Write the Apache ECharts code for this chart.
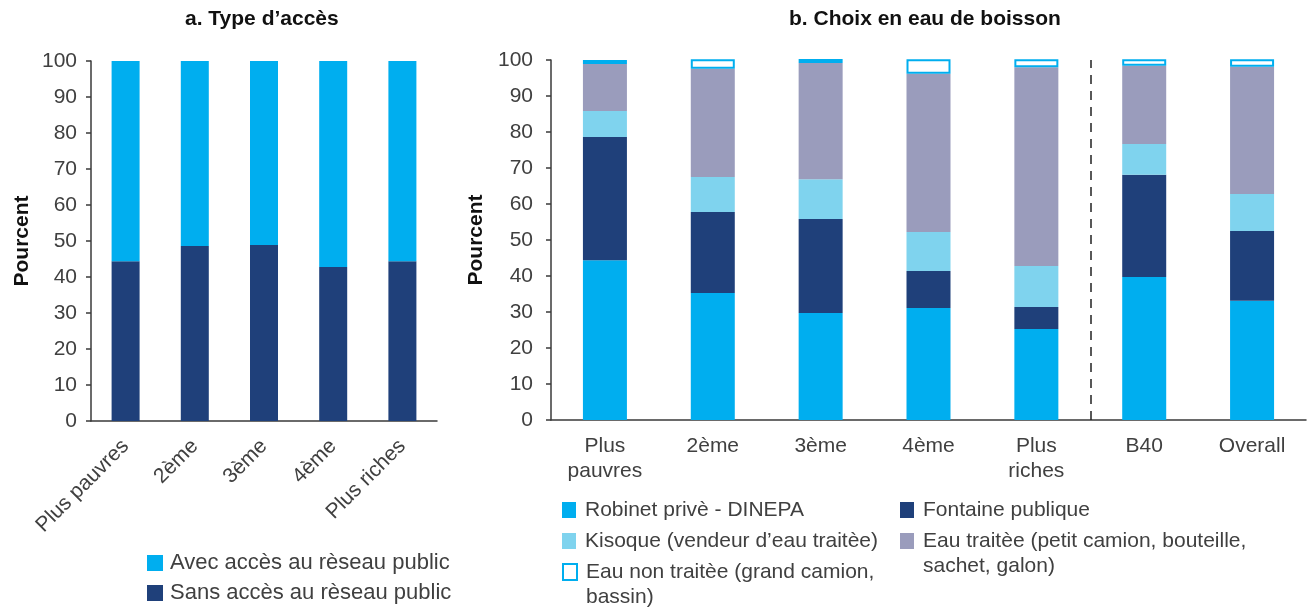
<!DOCTYPE html>
<html>
<head>
<meta charset="utf-8">
<script src="https://cdn.jsdelivr.net/npm/echarts@6/dist/echarts.min.js"></script>
<style>
  html, body { margin: 0; padding: 0; background: #fff; }
  #chart { width: 1309px; height: 607px; }
</style>
</head>
<body>
<div id="chart"></div>
<script>
// a. Type d'accès
const quintiles = ['Plus pauvres', '2ème', '3ème', '4ème', 'Plus riches']
const sansAcces = [44.4, 48.6, 48.9, 42.8, 44.4]
const avecAcces = [55.8, 51.4, 51.1, 57.2, 55.6]

// b. Choix en eau de boisson
const groupes = ['Plus\npauvres', '2ème', '3ème', '4ème', 'Plus\nriches', 'B40', 'Overall']
const robinet = [44.4, 35.3, 29.7, 31.1, 25.3, 39.7, 33.1]
const fontaine = [34.2, 22.5, 26.1, 10.3, 6.1, 28.4, 19.4]
const kiosque = [7.2, 9.7, 11.1, 10.8, 11.4, 8.6, 10.3]
const eauTraitee = [13.1, 30.1, 32.3, 44.0, 55.2, 21.7, 35.3]
const eauNonTraitee = [1.1, 2.6, 1.1, 4.0, 2.2, 1.8, 2.1]

const yTicks = [0, 100, 10]  // min, max, interval

const txt = '#404040'
const axisCol = '#3a3a3a'
const font = 'Liberation Sans'

const names = {
  avec: 'Avec accès au rèseau public',
  sans: 'Sans accès au rèseau public',
  robinet: 'Robinet privè - DINEPA',
  fontaine: 'Fontaine publique',
  kiosque: 'Kisoque (vendeur d\u2019eau traitèe)',
  traitee: 'Eau traitèe (petit camion, bouteille,\nsachet, galon)',
  nonTraitee: 'Eau non traitèe (grand camion,\nbassin)'
}

const yAxisBase = (gridIndex, margin, nameGap) => ({
  type: 'value',
  gridIndex: gridIndex,
  min: yTicks[0],
  max: yTicks[1],
  interval: yTicks[2],
  name: 'Pourcent',
  nameLocation: 'middle',
  nameGap: nameGap,
  nameRotate: 90,
  nameTextStyle: {fontFamily: font, fontSize: 21, fontWeight: 'bold', color: '#111'},
  axisLine: {show: true, lineStyle: {color: axisCol, width: 1.5}},
  axisTick: {show: true, length: 5, lineStyle: {color: axisCol, width: 1.5}},
  axisLabel: {fontFamily: font, fontSize: 21, color: txt, margin: margin},
  splitLine: {show: false}
})

// legend block for the right panel; a leading blank line keeps the icon
// level with the first line of two-line entries
const rightLegend = (left, top, data, twoLines) => ({
  orient: 'vertical',
  left: left, top: top, width: 420, height: 300, padding: 0,
  icon: 'rect',
  itemWidth: 14, itemHeight: 16, itemGap: 6,
  formatter: twoLines ? (n) => '\n' + n : undefined,
  textStyle: {fontFamily: font, fontSize: 21, color: txt, lineHeight: 25, padding: [0, 0, 0, 4]},
  data: data
})

const option = {
  animation: false,
  textStyle: {fontFamily: font},
  title: [
    {
      text: 'a. Type d\u2019accès',
      left: 185, top: 9, padding: 0,
      textStyle: {fontFamily: font, fontSize: 21, fontWeight: 'bold', color: '#111'}
    },
    {
      text: 'b. Choix en eau de boisson',
      left: 789, top: 9, padding: 0,
      textStyle: {fontFamily: font, fontSize: 21, fontWeight: 'bold', color: '#111'}
    }
  ],
  grid: [
    {left: 91, top: 61, width: 346, height: 360},
    {left: 551, top: 60, width: 755, height: 360}
  ],
  legend: [
    {
      orient: 'vertical',
      left: 147, top: 552, width: 400, height: 60, padding: 0,
      icon: 'rect',
      itemWidth: 16, itemHeight: 16, itemGap: 8,
      textStyle: {fontFamily: font, fontSize: 22, color: txt, lineHeight: 22, padding: [0, 0, 0, 2]},
      data: [names.avec, names.sans]
    },
    rightLegend(562, 497.5, [names.robinet, names.kiosque], false),
    rightLegend(562, 534.5, [names.nonTraitee], true),
    rightLegend(900, 497.5, [names.fontaine], false),
    rightLegend(900, 503.5, [names.traitee], true)
  ],
  xAxis: [
    {
      type: 'category',
      gridIndex: 0,
      data: quintiles,
      axisLine: {lineStyle: {color: axisCol, width: 1.5}},
      axisTick: {length: 7, lineStyle: {color: axisCol, width: 1.5}},
      axisLabel: {fontFamily: font, fontSize: 21, color: txt, rotate: 45, interval: 0, margin: 22}
    },
    {
      type: 'category',
      gridIndex: 1,
      data: groupes,
      axisLine: {lineStyle: {color: axisCol, width: 1.5}},
      axisTick: {length: 7, lineStyle: {color: axisCol, width: 1.5}},
      axisLabel: {fontFamily: font, fontSize: 21, color: txt, interval: 0, margin: 14, lineHeight: 25}
    },
    {
      // hidden value axis used only to place the B40 separator
      type: 'value',
      gridIndex: 1,
      min: 0,
      max: groupes.length,
      show: false
    }
  ],
  yAxis: [yAxisBase(0, 14, 58), yAxisBase(1, 18, 53)],
  series: [
    {
      name: names.sans, type: 'bar', stack: 'a', xAxisIndex: 0, yAxisIndex: 0,
      barWidth: 28, data: sansAcces, itemStyle: {color: '#1F407A'}
    },
    {
      name: names.avec, type: 'bar', stack: 'a', xAxisIndex: 0, yAxisIndex: 0,
      barWidth: 28, data: avecAcces, itemStyle: {color: '#00AEEF'}
    },
    {
      name: names.robinet, type: 'bar', stack: 'b', xAxisIndex: 1, yAxisIndex: 1,
      barWidth: 44, data: robinet, itemStyle: {color: '#00AEEF'}
    },
    {
      name: names.fontaine, type: 'bar', stack: 'b', xAxisIndex: 1, yAxisIndex: 1,
      barWidth: 44, data: fontaine, itemStyle: {color: '#1F407A'}
    },
    {
      name: names.kiosque, type: 'bar', stack: 'b', xAxisIndex: 1, yAxisIndex: 1,
      barWidth: 44, data: kiosque, itemStyle: {color: '#7FD3EE'}
    },
    {
      name: names.traitee, type: 'bar', stack: 'b', xAxisIndex: 1, yAxisIndex: 1,
      barWidth: 44, data: eauTraitee, itemStyle: {color: '#9A9CBC'}
    },
    {
      name: names.nonTraitee, type: 'bar', stack: 'b', xAxisIndex: 1, yAxisIndex: 1,
      barWidth: 44, data: eauNonTraitee, clip: false,
      itemStyle: {color: '#ffffff', borderColor: '#00AEEF', borderWidth: 2}
    },
    {
      name: 'separateur', type: 'line', xAxisIndex: 2, yAxisIndex: 1,
      data: [],
      markLine: {
        silent: true,
        symbol: ['none', 'none'],
        label: {show: false},
        lineStyle: {color: '#222', type: [9, 7], width: 1.5},
        data: [{xAxis: quintiles.length}]
      }
    }
  ]
}

const chart = echarts.init(document.getElementById('chart'))
chart.setOption(option)
</script>
</body>
</html>
